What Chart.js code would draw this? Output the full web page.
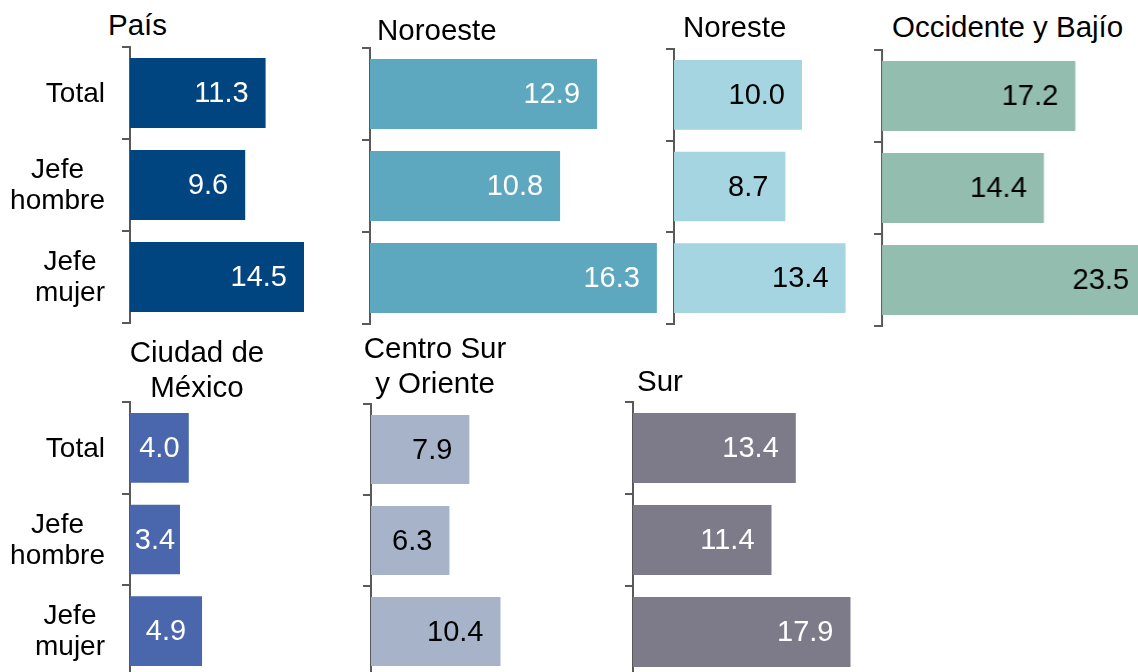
<!DOCTYPE html>
<html>
<head>
<meta charset="utf-8">
<script src="https://cdn.jsdelivr.net/npm/chart.js@4.4.1/dist/chart.umd.min.js"></script>
<style>
  html, body { margin: 0; padding: 0; background: #fff; overflow: hidden; }
  body { width: 1138px; height: 672px; position: relative; font-family: "Liberation Sans", Arial, sans-serif; }
  .panel { position: absolute; }
  .title { position: absolute; font-size: 29.5px; line-height: 35px; color: #000; white-space: nowrap; }
</style>
</head>
<body>
<script>
// categories shared by every region
const categories = ['Total', ['Jefe', 'hombre'], ['Jefe', 'mujer']];

// values per region
const pais = [11.3, 9.6, 14.5];
const noroeste = [12.9, 10.8, 16.3];
const noreste = [10.0, 8.7, 13.4];
const occidente = [17.2, 14.4, 23.5];
const cdmx = [4.0, 3.4, 4.9];
const centroSur = [7.9, 6.3, 10.4];
const sur = [13.4, 11.4, 17.9];

const FONT = '"Liberation Sans", Arial, sans-serif';
const AXIS = '#595959';

// layout: axisX = where the bars start, labels = draws category names
const panels = [
  { title: ['País'], data: pais, color: '#004580', text: '#fff', axisX: 130, top: 47, bottom: 323, xMax: 15, ppu: 12, labels: true,
    tx: 108, ty: 7 },
  { title: ['Noroeste'], data: noroeste, color: '#5da8bf', text: '#fff', axisX: 370, top: 48, bottom: 324, xMax: 17, ppu: 17.6,
    tx: 377, ty: 12 },
  { title: ['Noreste'], data: noreste, color: '#a5d5e0', text: '#000', axisX: 674, top: 49, bottom: 324, xMax: 14, ppu: 12.8,
    tx: 683, ty: 9 },
  { title: ['Occidente y Bajío'], data: occidente, color: '#93bdaf', text: '#000', axisX: 882, top: 50, bottom: 326, xMax: 24, ppu: 11.2,
    tx: 892, ty: 9 },
  { title: ['Ciudad de', 'México'], data: cdmx, color: '#4a66ac', text: '#fff', axisX: 130, top: 402, bottom: 677, xMax: 12, ppu: 14.7, labels: true,
    tx: 97, ty: 334, center: 200 },
  { title: ['Centro Sur', 'y Oriente'], data: centroSur, color: '#a6b3c8', text: '#000', axisX: 371, top: 404, bottom: 677, xMax: 12, ppu: 12.45,
    tx: 335, ty: 330, center: 200 },
  { title: ['Sur'], data: sur, color: '#7d7b8a', text: '#fff', axisX: 633, top: 402, bottom: 678, xMax: 20, ppu: 12.15,
    tx: 637, ty: 363 }
];

// value text inside the end of each bar
const valueLabels = {
  id: 'valueLabels',
  afterDatasetsDraw(chart, args, opts) {
    const ctx = chart.ctx;
    const meta = chart.getDatasetMeta(0);
    const vals = chart.data.datasets[0].data;
    ctx.save();
    ctx.font = '29px ' + FONT;
    ctx.fillStyle = opts.color;
    ctx.textBaseline = 'middle';
    meta.data.forEach((bar, i) => {
      const txt = vals[i].toFixed(1);
      const w = ctx.measureText(txt).width;
      const len = bar.x - bar.base;
      if (len >= w + 34) {
        ctx.textAlign = 'right';
        ctx.fillText(txt, bar.x - 17, bar.y + 1);
      } else {
        ctx.textAlign = 'center';
        ctx.fillText(txt, (bar.x + bar.base) / 2, bar.y + 1);
      }
    });
    ctx.restore();
  }
};

// category names: lines centred on each other, block right aligned
const catLabels = {
  id: 'catLabels',
  afterDraw(chart, args, opts) {
    if (!opts.show) return;
    const ctx = chart.ctx;
    const y = chart.scales.y;
    const right = y.right - 8 - 17;
    ctx.save();
    ctx.font = '28px ' + FONT;
    ctx.fillStyle = '#000';
    ctx.textAlign = 'center';
    ctx.textBaseline = 'middle';
    chart.data.labels.forEach((lab, i) => {
      const lines = [].concat(lab);
      const bw = Math.max(...lines.map(l => ctx.measureText(l).width));
      const cy = y.getPixelForValue(i);
      lines.forEach((l, j) => {
        ctx.fillText(l, right - bw / 2, cy + 1 + (j - (lines.length - 1) / 2) * 31);
      });
    });
    ctx.restore();
  }
};

panels.forEach((p) => {
  const yw = p.labels ? p.axisX : 12;
  const left = p.axisX - yw;
  const width = yw + p.xMax * p.ppu;
  const div = document.createElement('div');
  div.className = 'panel';
  div.style.left = left + 'px';
  div.style.top = (p.top - 2) + 'px';
  div.style.width = width + 'px';
  div.style.height = (p.bottom - p.top + 4) + 'px';
  const canvas = document.createElement('canvas');
  div.appendChild(canvas);
  document.body.appendChild(div);

  const t = document.createElement('div');
  t.className = 'title';
  t.style.left = p.tx + 'px';
  t.style.top = p.ty + 'px';
  if (p.center) {
    t.style.width = p.center + 'px';
    t.style.textAlign = 'center';
  }
  t.innerHTML = p.title.join('<br>');
  document.body.appendChild(t);

  new Chart(canvas.getContext('2d'), {
    type: 'bar',
    data: {
      labels: categories,
      datasets: [{
        data: p.data,
        backgroundColor: p.color,
        borderWidth: 0,
        barPercentage: 0.76,
        categoryPercentage: 1
      }]
    },
    options: {
      indexAxis: 'y',
      responsive: true,
      maintainAspectRatio: false,
      animation: false,
      devicePixelRatio: 1,
      layout: { padding: { top: 2, bottom: 2, left: 0, right: 0 } },
      scales: {
        x: { display: false, min: 0, max: p.xMax },
        y: {
          offset: true,
          grid: { offset: true, drawOnChartArea: false, drawTicks: true, tickLength: 8, color: AXIS, lineWidth: 2 },
          border: { display: true, color: AXIS, width: 2 },
          ticks: { display: false },
          afterFit: (s) => { s.width = yw; }
        }
      },
      plugins: {
        legend: { display: false },
        tooltip: { enabled: false },
        valueLabels: { color: p.text },
        catLabels: { show: !!p.labels }
      }
    },
    plugins: [valueLabels, catLabels]
  });
});
</script>
</body>
</html>
